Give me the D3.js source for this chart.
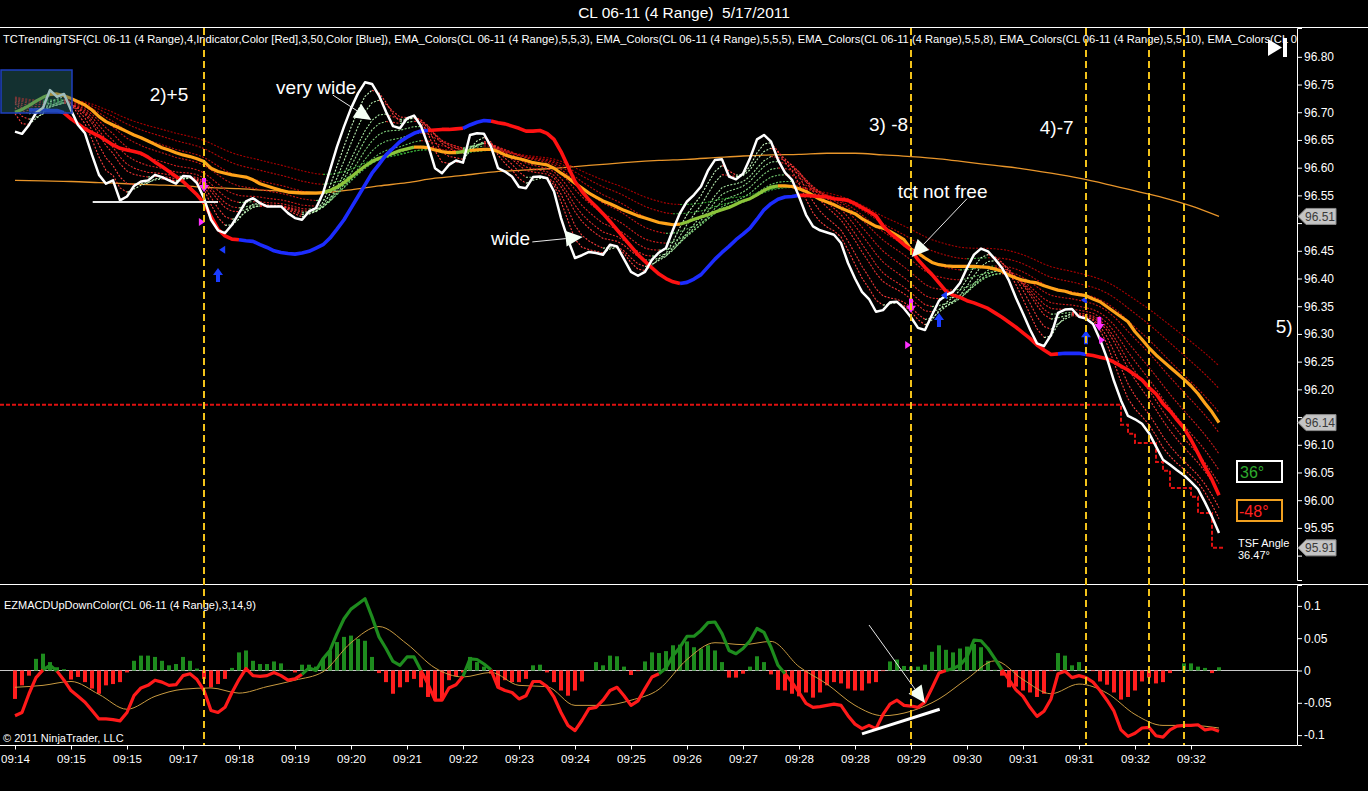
<!DOCTYPE html>
<html>
<head>
<meta charset="utf-8">
<script src="https://cdn.jsdelivr.net/npm/d3@7"></script>
<style>
  html, body { margin: 0; padding: 0; background: #000; }
  svg { display: block; }
  text { font-family: "Liberation Sans", Arial, sans-serif; }
</style>
</head>
<body>
<svg id="chart" width="1368" height="791"></svg>
<script>
// ---- data (one value per range bar unless noted) ----
var timeLabels = ["09:14", "09:15", "09:15", "09:17", "09:18", "09:19", "09:20", "09:21", "09:22", "09:23", "09:24",
    "09:25", "09:26", "09:27", "09:28", "09:28", "09:29", "09:30", "09:31", "09:31", "09:32", "09:32"];

var closes = [
    96.665, 96.661, 96.677, 96.699, 96.708, 96.740, 96.728, 96.733, 96.704, 96.677,
    96.662, 96.623, 96.587, 96.571, 96.577, 96.541, 96.548, 96.567, 96.575, 96.577,
    96.587, 96.583, 96.577, 96.571, 96.585, 96.584, 96.572, 96.545, 96.506, 96.487,
    96.482, 96.497, 96.518, 96.539, 96.545, 96.536, 96.530, 96.530, 96.530, 96.518,
    96.509, 96.506, 96.521, 96.527, 96.554, 96.596, 96.638, 96.674, 96.707, 96.734,
    96.754, 96.751, 96.730, 96.701, 96.675, 96.671, 96.689, 96.694, 96.675, 96.641,
    96.599, 96.590, 96.605, 96.613, 96.609, 96.659, 96.662, 96.661, 96.638, 96.599,
    96.593, 96.584, 96.565, 96.563, 96.583, 96.584, 96.581, 96.557, 96.509, 96.470,
    96.437, 96.442, 96.448, 96.446, 96.443, 96.461, 96.458, 96.435, 96.412, 96.405,
    96.412, 96.434, 96.447, 96.455, 96.488, 96.518, 96.539, 96.551, 96.566, 96.595,
    96.614, 96.615, 96.584, 96.579, 96.589, 96.617, 96.651, 96.659, 96.647, 96.614,
    96.591, 96.578, 96.548, 96.515, 96.494, 96.487, 96.483, 96.479, 96.464, 96.428,
    96.400, 96.376, 96.363, 96.340, 96.343, 96.357, 96.358, 96.346, 96.330, 96.311,
    96.307, 96.334, 96.360, 96.370, 96.376, 96.392, 96.419, 96.443, 96.454, 96.449,
    96.435, 96.419, 96.396, 96.365, 96.337, 96.308, 96.283, 96.278, 96.298, 96.338,
    96.344, 96.345, 96.331, 96.328, 96.318, 96.290, 96.256, 96.215, 96.180, 96.152,
    96.146, 96.138, 96.121, 96.097, 96.073, 96.064, 96.054, 96.045, 96.033, 96.020,
    95.996, 95.970, 95.941
];

var tsf = [
    null, null, 96.704, 96.704, 96.704, 96.703, 96.703, 96.699, 96.688, 96.679,
    96.670, 96.663, 96.657, 96.649, 96.641, 96.635, 96.632, 96.629, 96.626, 96.619,
    96.610, 96.602, 96.593, 96.584, 96.575, 96.563, 96.551, 96.536, 96.512, 96.489,
    96.477, 96.471, 96.470, 96.468, 96.467, 96.461, 96.456, 96.450, 96.447, 96.445,
    96.444, 96.446, 96.449, 96.455, 96.461, 96.473, 96.489, 96.506, 96.527, 96.548,
    96.569, 96.590, 96.606, 96.623, 96.635, 96.647, 96.655, 96.662, 96.666, 96.667,
    96.668, 96.669, 96.669, 96.670, 96.671, 96.677, 96.682, 96.685, 96.684, 96.681,
    96.679, 96.675, 96.671, 96.666, 96.666, 96.667, 96.662, 96.651, 96.629, 96.602,
    96.575, 96.557, 96.542, 96.530, 96.517, 96.503, 96.488, 96.473, 96.458, 96.443,
    96.431, 96.419, 96.408, 96.400, 96.394, 96.391, 96.393, 96.399, 96.407, 96.421,
    96.435, 96.447, 96.458, 96.470, 96.480, 96.491, 96.507, 96.524, 96.535, 96.543,
    96.547, 96.548, 96.550, 96.550, 96.549, 96.548, 96.547, 96.544, 96.543, 96.541,
    96.535, 96.528, 96.521, 96.513, 96.495, 96.482, 96.472, 96.461, 96.452, 96.434,
    96.420, 96.407, 96.392, 96.377, 96.370, 96.366, 96.360, 96.356, 96.351, 96.346,
    96.338, 96.330, 96.321, 96.312, 96.302, 96.292, 96.280, 96.271, 96.263, 96.264,
    96.265, 96.265, 96.265, 96.263, 96.261, 96.258, 96.255, 96.249, 96.242, 96.235,
    96.226, 96.217, 96.203, 96.192, 96.174, 96.161, 96.145, 96.130, 96.109, 96.085,
    96.060, 96.037, 96.009
];

// bar ranges where the TSF trend is up (drawn blue)
var tsfUpRanges = [[2, 7], [32, 59], [64, 68], [95, 112], [149, 153]];

var emaMid = [
    96.700, 96.705, 96.712, 96.720, 96.727, 96.732, 96.733, 96.730, 96.725, 96.719,
    96.713, 96.704, 96.692, 96.683, 96.677, 96.671, 96.665, 96.659, 96.654, 96.648,
    96.642, 96.636, 96.632, 96.627, 96.623, 96.620, 96.616, 96.611, 96.599, 96.593,
    96.590, 96.587, 96.585, 96.583, 96.578, 96.571, 96.567, 96.563, 96.559, 96.556,
    96.555, 96.554, 96.554, 96.554, 96.555, 96.559, 96.565, 96.573, 96.583, 96.593,
    96.603, 96.611, 96.617, 96.621, 96.626, 96.631, 96.634, 96.637, 96.637, 96.636,
    96.632, 96.629, 96.627, 96.627, 96.629, 96.631, 96.632, 96.633, 96.633, 96.629,
    96.623, 96.619, 96.616, 96.613, 96.609, 96.607, 96.605, 96.599, 96.590, 96.582,
    96.572, 96.563, 96.554, 96.547, 96.540, 96.535, 96.529, 96.523, 96.518, 96.513,
    96.509, 96.505, 96.501, 96.499, 96.497, 96.498, 96.502, 96.507, 96.511, 96.515,
    96.520, 96.524, 96.528, 96.534, 96.540, 96.544, 96.551, 96.559, 96.565, 96.567,
    96.567, 96.566, 96.562, 96.557, 96.550, 96.543, 96.538, 96.533, 96.527, 96.522,
    96.517, 96.508, 96.501, 96.494, 96.491, 96.485, 96.478, 96.470, 96.453, 96.446,
    96.437, 96.429, 96.425, 96.423, 96.422, 96.422, 96.422, 96.422, 96.421, 96.420,
    96.417, 96.413, 96.406, 96.401, 96.397, 96.394, 96.392, 96.387, 96.383, 96.379,
    96.377, 96.373, 96.371, 96.369, 96.363, 96.358, 96.349, 96.340, 96.331, 96.322,
    96.304, 96.290, 96.275, 96.262, 96.251, 96.240, 96.229, 96.218, 96.206, 96.192,
    96.175, 96.159, 96.140
];

// slow average and MACD signal are smooth: read every 4th bar
var sparseStep = 4;
var emaLong = [
    96.577, 96.576, 96.575, 96.573, 96.571, 96.569, 96.567, 96.564, 96.562, 96.559,
    96.557, 96.555, 96.560, 96.567, 96.573, 96.581, 96.586, 96.592, 96.595, 96.598,
    96.602, 96.606, 96.610, 96.613, 96.615, 96.618, 96.621, 96.623, 96.624, 96.626,
    96.626, 96.623, 96.620, 96.616, 96.610, 96.604, 96.598, 96.590, 96.581, 96.570,
    96.558, 96.546, 96.531, 96.512
];

// EMA_Colors ribbon periods (header lists 3, 5, 8, 10 ...) and the level they enter the chart at
var ribbonPeriods = [3, 5, 8, 10, 13, 17, 23, 30, 40, 52];
var ribbonStart = 96.73;

// trailing stop: [bar, level] where the level changes
var stopSteps = [[0, 96.172], [158, 96.136], [159, 96.120], [160, 96.103], [163, 96.069],
    [164, 96.053], [165, 96.022], [168, 96.006], [169, 95.977], [171, 95.914]];

var tradeLines = [27, 128, 153, 162, 167];

var macd = [
    -0.070, -0.065, -0.036, -0.011, 0.001, 0.008, -0.001, -0.015, -0.031, -0.040,
    -0.049, -0.062, -0.075, -0.075, -0.076, -0.078, -0.065, -0.039, -0.027, -0.023,
    -0.015, -0.018, -0.023, -0.022, -0.008, -0.005, -0.014, -0.031, -0.062, -0.065,
    -0.057, -0.034, -0.014, 0.003, -0.008, -0.009, -0.008, -0.003, -0.008, -0.015,
    -0.013, -0.006, 0.004, 0.000, 0.018, 0.031, 0.057, 0.080, 0.095, 0.103,
    0.111, 0.083, 0.052, 0.034, 0.014, 0.008, 0.021, 0.021, 0.000, -0.021,
    -0.046, -0.046, -0.027, -0.022, -0.009, 0.018, 0.017, 0.010, 0.001, -0.026,
    -0.031, -0.034, -0.044, -0.039, -0.017, -0.017, -0.025, -0.041, -0.065, -0.085,
    -0.093, -0.077, -0.059, -0.057, -0.046, -0.031, -0.026, -0.039, -0.054, -0.047,
    -0.028, -0.010, -0.005, 0.004, 0.023, 0.036, 0.053, 0.053, 0.062, 0.074,
    0.075, 0.057, 0.031, 0.026, 0.034, 0.046, 0.065, 0.059, 0.036, 0.008,
    -0.005, -0.018, -0.034, -0.051, -0.057, -0.056, -0.054, -0.052, -0.054, -0.070,
    -0.083, -0.090, -0.085, -0.090, -0.068, -0.052, -0.046, -0.054, -0.055, -0.057,
    -0.049, -0.027, -0.004, 0.000, 0.003, 0.008, 0.021, 0.047, 0.046, 0.034,
    0.018, 0.001, -0.014, -0.030, -0.040, -0.057, -0.071, -0.063, -0.044, -0.005,
    -0.001, -0.011, -0.008, -0.011, -0.018, -0.031, -0.046, -0.063, -0.092, -0.102,
    -0.097, -0.089, -0.088, -0.101, -0.103, -0.092, -0.086, -0.085, -0.085, -0.084,
    -0.092, -0.090, -0.094
];

var macdSignal = [
    -0.026, -0.023, -0.017, -0.037, -0.060, -0.040, -0.029, -0.027, -0.035, -0.025,
    -0.015, -0.002, 0.043, 0.068, 0.041, 0.004, -0.010, -0.003, -0.023, -0.025,
    -0.054, -0.054, -0.046, -0.029, 0.017, 0.043, 0.040, 0.045, 0.006, -0.021,
    -0.054, -0.070, -0.063, -0.044, -0.013, 0.015, -0.014, -0.036, -0.021, -0.035,
    -0.068, -0.085, -0.085, -0.089
];

var macdHist = [
    -0.044, -0.023, -0.008, 0.018, 0.026, 0.013, 0.005, 0.002, -0.014, -0.010,
    -0.018, -0.028, -0.036, -0.023, -0.021, -0.018, -0.003, 0.015, 0.023, 0.023,
    0.021, 0.015, 0.008, 0.010, 0.021, 0.015, 0.003, -0.013, -0.026, -0.021,
    -0.013, 0.004, 0.028, 0.031, 0.015, 0.010, 0.010, 0.014, 0.011, 0.001,
    -0.003, 0.009, 0.009, 0.006, 0.018, 0.031, 0.044, 0.052, 0.054, 0.049,
    0.046, 0.021, -0.004, -0.018, -0.036, -0.026, -0.018, -0.013, -0.026, -0.041,
    -0.046, -0.044, -0.015, -0.009, -0.003, 0.021, 0.013, 0.006, -0.005, -0.026,
    -0.015, -0.018, -0.018, -0.013, 0.008, 0.009, -0.003, -0.018, -0.031, -0.039,
    -0.031, -0.017, 0.000, 0.013, 0.008, 0.023, 0.022, 0.006, -0.007, -0.001,
    0.014, 0.028, 0.027, 0.030, 0.039, 0.040, 0.045, 0.036, 0.034, 0.039,
    0.031, 0.013, -0.011, -0.011, -0.005, 0.006, 0.022, 0.013, -0.006, -0.030,
    -0.031, -0.036, -0.040, -0.034, -0.042, -0.034, -0.023, -0.018, -0.020, -0.028,
    -0.031, -0.031, -0.020, -0.018, -0.001, 0.014, 0.017, 0.007, 0.006, 0.006,
    0.009, 0.029, 0.039, 0.032, 0.028, 0.034, 0.037, 0.041, 0.036, 0.015,
    0.001, -0.008, -0.026, -0.025, -0.031, -0.034, -0.041, -0.036, -0.001, 0.027,
    0.023, 0.008, 0.013, 0.001, -0.001, -0.017, -0.022, -0.034, -0.045, -0.041,
    -0.031, -0.017, -0.011, -0.020, -0.018, -0.004, 0.000, 0.011, 0.011, 0.006,
    0.004, -0.004, 0.005
];

var priceTicks = d3.range(0, 19).map(function (i) { return +(95.90 + i * 0.05).toFixed(2); });
var macdTicks = [-0.1, -0.05, 0, 0.05, 0.1];

// drawn-on notes: text, arrows, lines (bar / value coordinates)
var notes = [
    { text: "2)+5", bar: 22, price: 96.721, anchor: "middle" },
    { text: "very wide", bar: 37.3, price: 96.733 },
    { text: "wide", bar: 68, price: 96.461 },
    { text: "tct not free", bar: 126.1, price: 96.545 },
    { text: "3) -8", bar: 122, price: 96.666 },
    { text: "4)-7", bar: 146.4, price: 96.661 },
    { text: "5)", bar: 180.1, price: 96.302 }
];
var priceArrows = [
    { from: [45.4, 96.731], to: [50.9, 96.686] },
    { from: [73.9, 96.466], to: [81.1, 96.475] },
    { from: [136, 96.544], to: [128.1, 96.439] }
];
var macdArrows = [{ from: [122, 0.0704], to: [130, -0.0503] }];
var supportLine = [[11.1, 96.538], [29.0, 96.538]];
var macdTrendLine = [[121, -0.098], [132.1, -0.060]];

var signals = [
    { bar: 27, price: 96.567, kind: "sell" }, { bar: 26.7, price: 96.502, kind: "sellTri" },
    { bar: 29, price: 96.408, kind: "buy" }, { bar: 29.6, price: 96.452, kind: "buyTri" },
    { bar: 128, price: 96.349, kind: "sell" }, { bar: 127.6, price: 96.280, kind: "sellTri" },
    { bar: 132, price: 96.327, kind: "buy" }, { bar: 132.7, price: 96.370, kind: "buyTri" },
    { bar: 153, price: 96.296, kind: "buy" }, { bar: 152.7, price: 96.361, kind: "buyTri" },
    { bar: 154.9, price: 96.316, kind: "sell" }, { bar: 155.3, price: 96.289, kind: "sellTri" }
];

var angleUp = "36°", angleDown = "-48°", tsfAngle = "36.47°";

// ---- layout ----
var W = 1368, H = 791;
var priceTop = 28, priceBottom = 580, macdTop = 585, macdBottom = 745, plotRight = 1297;
var lastBar = closes.length - 1;

var svg = d3.select("#chart");
svg.append("rect").attr("width", W).attr("height", H).attr("fill", "#000");

var x = d3.scaleLinear().domain([0, lastBar]).range([15, 1219]);
var yPrice = d3.scaleLinear().domain([95.856, 96.852]).range([priceBottom, priceTop]);
var yMacd = d3.scaleLinear().domain([-0.1153, 0.1323]).range([macdBottom, macdTop]);

var defs = svg.append("defs");
defs.append("clipPath").attr("id", "clipPrice").append("rect")
    .attr("x", 0).attr("y", priceTop).attr("width", plotRight).attr("height", priceBottom - priceTop);
defs.append("clipPath").attr("id", "clipMacd").append("rect")
    .attr("x", 0).attr("y", macdTop).attr("width", plotRight).attr("height", macdBottom - macdTop);
defs.append("clipPath").attr("id", "clipHeader").append("rect")
    .attr("x", 0).attr("y", priceTop).attr("width", plotRight).attr("height", 30);

// split a series into runs of equal segment colour
function colorRuns(values, colorOf) {
    var runs = [], cur = null;
    for (var i = 1; i < values.length; i++) {
        if (values[i] == null || values[i - 1] == null) { cur = null; continue; }
        var c = colorOf(i);
        if (!cur || cur.color !== c) {
            cur = { color: c, pts: [[i - 1, values[i - 1]]] };
            runs.push(cur);
        }
        cur.pts.push([i, values[i]]);
    }
    return runs;
}

function ema(values, period, seed) {
    var k = 2 / (period + 1), out = [], prev = seed;
    values.forEach(function (v) { prev = prev + k * (v - prev); out.push(prev); });
    return out;
}

var priceLine = d3.line().x(function (d) { return x(d[0]); }).y(function (d) { return yPrice(d[1]); });
var macdLine = d3.line().x(function (d) { return x(d[0]); }).y(function (d) { return yMacd(d[1]); });

// ---- frame ----
svg.append("text").attr("x", 684).attr("y", 18).attr("text-anchor", "middle")
    .attr("fill", "#fff").attr("font-size", 15.5).text("CL 06-11 (4 Range)\u00a0 5/17/2011");
svg.append("line").attr("x1", 0).attr("x2", W).attr("y1", 27.5).attr("y2", 27.5).attr("stroke", "#fff");
svg.append("line").attr("x1", 0).attr("x2", W).attr("y1", 584.5).attr("y2", 584.5).attr("stroke", "#fff");

// ---- price panel ----
var gp = svg.append("g").attr("clip-path", "url(#clipPrice)");

// slow average (thin orange)
gp.append("path")
    .datum(emaLong.map(function (v, i) { return [i * sparseStep, v]; }))
    .attr("d", priceLine.curve(d3.curveMonotoneX))
    .attr("fill", "none").attr("stroke", "#e8952a").attr("stroke-width", 1.3);
priceLine.curve(d3.curveLinear);

// EMA ribbon, slowest first
var nRib = ribbonPeriods.length;
ribbonPeriods.slice().reverse().forEach(function (p, ri) {
    var t = ri / (nRib - 1); // 0 slow .. 1 fast
    var series = ema(closes, p, ribbonStart);
    var down = d3.interpolateRgb("#a80000", "#ff4040")(t);
    var up = d3.interpolateRgb("#2aa02a", "#c8f5c0")(t);
    colorRuns(series, function (i) { return series[i] >= series[i - 1] ? up : down; })
        .forEach(function (r) {
            gp.append("path").attr("d", priceLine(r.pts)).attr("fill", "none")
                .attr("stroke", r.color).attr("stroke-width", 1.1).attr("stroke-dasharray", "2,1.5");
        });
});

// trend average (thick orange, greenish while rising)
colorRuns(emaMid, function (i) { return emaMid[i] - emaMid[i - 1] > 0.0015 ? "#8cc43a" : "#ffa31a"; })
    .forEach(function (r) {
        gp.append("path").attr("d", priceLine(r.pts)).attr("fill", "none")
            .attr("stroke", r.color).attr("stroke-width", 3.2).attr("stroke-linejoin", "round");
    });

// trailing stop (red dashed steps)
var stopPts = stopSteps.concat([[lastBar + 0.6, stopSteps[stopSteps.length - 1][1]]]);
stopPts.unshift([x.invert(0), stopSteps[0][1]]);
gp.append("path").datum(stopPts)
    .attr("d", priceLine.curve(d3.curveStepAfter))
    .attr("fill", "none").attr("stroke", "#e01010").attr("stroke-width", 2).attr("stroke-dasharray", "4,2");
priceLine.curve(d3.curveLinear);

// TSF (red / blue)
function tsfUp(i) { return tsfUpRanges.some(function (r) { return i > r[0] && i <= r[1]; }); }
colorRuns(tsf, function (i) { return tsfUp(i) ? "#1c2cff" : "#ff1212"; })
    .forEach(function (r) {
        gp.append("path").attr("d", priceLine(r.pts)).attr("fill", "none")
            .attr("stroke", r.color).attr("stroke-width", 3.6).attr("stroke-linejoin", "round");
    });

// close
gp.append("path").datum(closes.map(function (v, i) { return [i, v]; }))
    .attr("d", priceLine).attr("fill", "none").attr("stroke", "#fff")
    .attr("stroke-width", 2.5).attr("stroke-linejoin", "round");

// support line under 2)+5
gp.append("path").attr("d", priceLine(supportLine)).attr("stroke", "#e8e8e8").attr("stroke-width", 2);

// signal markers
signals.forEach(function (s) {
    var px = x(s.bar), py = yPrice(s.price), d, c;
    if (s.kind === "sell") { d = "M-2,-8h4v7h3l-5,7l-5,-7h3z"; c = "#ff30ff"; }
    else if (s.kind === "buy") { d = "M-2,8h4v-7h3l-5,-7l-5,7h3z"; c = "#1a3cff"; }
    else if (s.kind === "sellTri") { d = "M-3,-4L3,0L-3,4z"; c = "#ff30ff"; }
    else { d = "M3,-4L-3,0L3,4z"; c = "#1a3cff"; }
    gp.append("path").attr("transform", "translate(" + px + "," + py + ")").attr("d", d).attr("fill", c);
});

// notes
notes.forEach(function (n) {
    svg.append("text").attr("x", x(n.bar)).attr("y", yPrice(n.price))
        .attr("text-anchor", n.anchor || "start").attr("fill", "#fff").attr("font-size", 19).text(n.text);
});

function drawArrow(g, a, ys, width) {
    var x0 = x(a.from[0]), y0 = ys(a.from[1]), x1 = x(a.to[0]), y1 = ys(a.to[1]);
    var ang = Math.atan2(y1 - y0, x1 - x0), L = 17, hw = 8;
    var bx = x1 - L * Math.cos(ang), by = y1 - L * Math.sin(ang);
    g.append("line").attr("x1", x0).attr("y1", y0).attr("x2", bx).attr("y2", by)
        .attr("stroke", "#e8e8e8").attr("stroke-width", width);
    g.append("path").attr("fill", "#f4fff4").attr("d",
        "M" + x1 + "," + y1 +
        "L" + (bx - hw * Math.sin(ang)) + "," + (by + hw * Math.cos(ang)) +
        "L" + (bx + hw * Math.sin(ang)) + "," + (by - hw * Math.cos(ang)) + "Z");
}
priceArrows.forEach(function (a) { drawArrow(svg, a, yPrice, 1); });

// top-left highlight box
svg.append("rect").attr("x", 1).attr("y", 70).attr("width", 71).attr("height", 43)
    .attr("fill", "#2a6a6a").attr("fill-opacity", 0.45).attr("stroke", "#1f3fbf").attr("stroke-width", 1.5);

// header line
svg.append("text").attr("clip-path", "url(#clipHeader)")
    .attr("x", 3).attr("y", 43).attr("fill", "#fff").attr("font-size", 10.5)
    .attr("textLength", 1294).attr("lengthAdjust", "spacingAndGlyphs")
    .text("TCTrendingTSF(CL 06-11 (4 Range),4,Indicator,Color [Red],3,50,Color [Blue]), EMA_Colors(CL 06-11 (4 Range),5,5,3), EMA_Colors(CL 06-11 (4 Range),5,5,5), EMA_Colors(CL 06-11 (4 Range),5,5,8), EMA_Colors(CL 06-11 (4 Range),5,5,10), EMA_Colors(CL 0");

// go-to-end icon
svg.append("path").attr("d", "M1268,39L1282,47.5L1268,56Z").attr("fill", "#fff");
svg.append("rect").attr("x", 1283).attr("y", 38).attr("width", 4).attr("height", 19).attr("fill", "#fff");

// last-value tags (emaLong, emaMid, stop)
var tags = [emaLong[emaLong.length - 1], emaMid[lastBar], stopSteps[stopSteps.length - 1][1]];

// price axis; a tick label hidden under a tag is left out
var axP = svg.append("g").attr("transform", "translate(" + plotRight + ",0)")
    .call(d3.axisRight(yPrice).tickValues(priceTicks).tickSize(5).tickPadding(2)
        .tickFormat(function (d) {
            var hidden = tags.some(function (t) { return Math.abs(yPrice(t) - yPrice(d)) < 11; });
            return hidden ? "" : d3.format(".2f")(d);
        }));
axP.select(".domain").attr("stroke", "#fff");
axP.selectAll(".tick line").attr("stroke", "#fff");
axP.selectAll("text").attr("fill", "#fff").attr("font-size", 12).attr("font-family", "Liberation Sans, Arial");

tags.forEach(function (v) {
    var ty = yPrice(v);
    svg.append("path").attr("d", "M" + (plotRight + 1) + "," + ty + "l8,-8h30v16h-30z")
        .attr("fill", "#c4c4c4").attr("stroke", "#8a8a8a");
    svg.append("text").attr("x", plotRight + 8).attr("y", ty + 4.5).attr("fill", "#3a3a3a")
        .attr("font-size", 12).text(d3.format(".2f")(v));
});

// angle boxes
svg.append("rect").attr("x", 1237).attr("y", 461).attr("width", 45).attr("height", 21)
    .attr("fill", "none").attr("stroke", "#fff").attr("stroke-width", 2);
svg.append("text").attr("x", 1240).attr("y", 478).attr("fill", "#2eaa2e").attr("font-size", 16).text(angleUp);
svg.append("rect").attr("x", 1237).attr("y", 500).attr("width", 45).attr("height", 21)
    .attr("fill", "none").attr("stroke", "#f0a020").attr("stroke-width", 2);
svg.append("text").attr("x", 1239).attr("y", 517).attr("fill", "#ff2020").attr("font-size", 16).text(angleDown);
svg.append("text").attr("x", 1238).attr("y", 547).attr("fill", "#fff").attr("font-size", 11).text("TSF Angle");
svg.append("text").attr("x", 1238).attr("y", 559).attr("fill", "#fff").attr("font-size", 11).text(tsfAngle);

// ---- MACD panel ----
var gm = svg.append("g").attr("clip-path", "url(#clipMacd)");
gm.append("line").attr("x1", 0).attr("x2", plotRight).attr("y1", yMacd(0)).attr("y2", yMacd(0))
    .attr("stroke", "#c8c8c8").attr("stroke-width", 1.2);

gm.selectAll("rect.hist").data(macdHist).enter().append("rect").attr("class", "hist")
    .attr("x", function (d, i) { return x(i) - 2; })
    .attr("width", 4)
    .attr("y", function (d) { return Math.min(yMacd(d), yMacd(0)); })
    .attr("height", function (d) { return Math.abs(yMacd(d) - yMacd(0)); })
    .attr("fill", function (d) { return d >= 0 ? "#1e8c1e" : "#ff1e1e"; });

gm.append("path")
    .datum(macdSignal.map(function (v, i) { return [i * sparseStep, v]; }))
    .attr("d", macdLine.curve(d3.curveMonotoneX))
    .attr("fill", "none").attr("stroke", "#c89a40").attr("stroke-width", 1);
macdLine.curve(d3.curveLinear);

colorRuns(macd, function (i) { return (macd[i] + macd[i - 1]) / 2 >= -0.001 ? "#1e8c1e" : "#ff1a1a"; })
    .forEach(function (r) {
        gm.append("path").attr("d", macdLine(r.pts)).attr("fill", "none")
            .attr("stroke", r.color).attr("stroke-width", 3.2).attr("stroke-linejoin", "round");
    });

gm.append("path").attr("d", macdLine(macdTrendLine)).attr("stroke", "#fff").attr("stroke-width", 3);
macdArrows.forEach(function (a) { drawArrow(svg, a, yMacd, 1); });

svg.append("text").attr("x", 4).attr("y", 609).attr("fill", "#fff").attr("font-size", 11)
    .text("EZMACDUpDownColor(CL 06-11 (4 Range),3,14,9)");
svg.append("text").attr("x", 3).attr("y", 742).attr("fill", "#fff").attr("font-size", 11)
    .text("© 2011 NinjaTrader, LLC");

var axM = svg.append("g").attr("transform", "translate(" + plotRight + ",0)")
    .call(d3.axisRight(yMacd).tickValues(macdTicks)
        .tickFormat(function (d) { return String(+d.toFixed(2)); }).tickSize(5).tickPadding(2));
axM.select(".domain").attr("stroke", "#fff");
axM.selectAll(".tick line").attr("stroke", "#fff");
axM.selectAll("text").attr("fill", "#fff").attr("font-size", 12).attr("font-family", "Liberation Sans, Arial");

// ---- trade markers (yellow dashed verticals across both panels) ----
tradeLines.forEach(function (b) {
    svg.append("line").attr("x1", x(b)).attr("x2", x(b)).attr("y1", priceTop).attr("y2", macdBottom)
        .attr("stroke", "#f2c21a").attr("stroke-width", 2).attr("stroke-dasharray", "7,4");
});

// ---- time axis ----
svg.append("line").attr("x1", 0).attr("x2", plotRight).attr("y1", macdBottom + 0.5).attr("y2", macdBottom + 0.5)
    .attr("stroke", "#fff");
var axT = svg.append("g").attr("transform", "translate(0," + (macdBottom + 0.5) + ")")
    .call(d3.axisBottom(x).tickValues(d3.range(0, lastBar, 8))
        .tickFormat(function (d, i) { return timeLabels[i]; }).tickSize(4).tickPadding(5));
axT.select(".domain").remove();
axT.selectAll(".tick line").attr("stroke", "#fff");
axT.selectAll("text").attr("fill", "#fff").attr("font-size", 11.5).attr("font-family", "Liberation Sans, Arial");
</script>
</body>
</html>
